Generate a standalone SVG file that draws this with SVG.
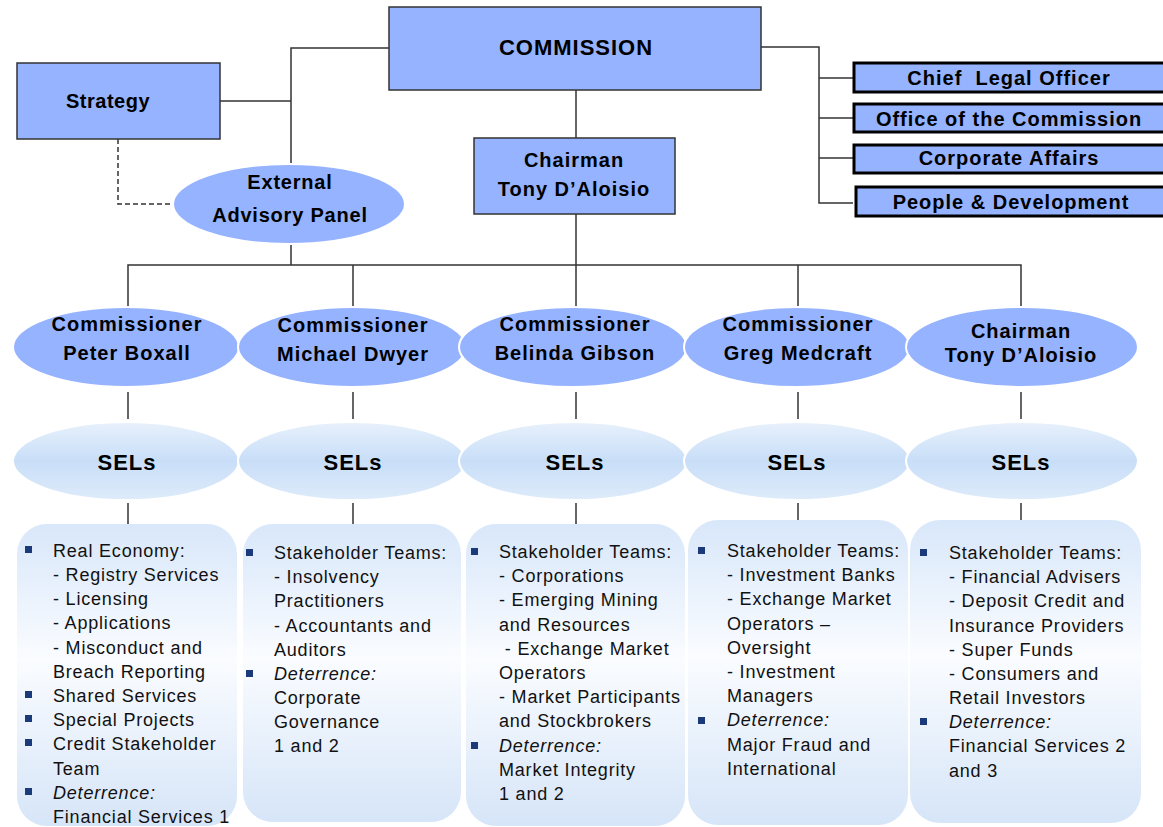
<svg xmlns="http://www.w3.org/2000/svg" width="1163" height="827" viewBox="0 0 1163 827">
<defs>
<linearGradient id="selGrad" x1="0" y1="0" x2="0" y2="1">
<stop offset="0" stop-color="#E8F1FC"/>
<stop offset="0.5" stop-color="#C8DEF8"/>
<stop offset="1" stop-color="#DEEBFA"/>
</linearGradient>
<linearGradient id="boxGrad" x1="0" y1="0" x2="0" y2="1">
<stop offset="0" stop-color="#D8E7FA"/>
<stop offset="0.45" stop-color="#FAFCFF"/>
<stop offset="1" stop-color="#D6E5F8"/>
</linearGradient>
<style>
.blue{fill:#95B3FF;stroke:#333;stroke-width:1.5}
.side{fill:#95B3FF;stroke:#000;stroke-width:3}
.ell{fill:#95B3FF;stroke:#fff;stroke-width:2}
.sel{fill:url(#selGrad);stroke:#fff;stroke-width:2}
.tbox{fill:url(#boxGrad);stroke:none}
.ln{stroke:#333;stroke-width:1.5;fill:none}
.dash{stroke:#333;stroke-width:1.5;fill:none;stroke-dasharray:5 3}
.hd{font-family:"Liberation Sans",Arial,sans-serif;font-weight:bold;fill:#000;text-anchor:middle;letter-spacing:1px}
.bd{font-family:"Liberation Sans",Arial,sans-serif;font-size:18px;fill:#111;letter-spacing:0.8px}
.it{font-style:italic}
.bul{fill:#1A3A7A}
</style>
</defs>
<g id="connectors">
<polyline class="ln" points="220,101 291,101"/>
<polyline class="ln" points="389,48 291,48 291,165"/>
<polyline class="ln" points="291,244 291,265"/>
<polyline class="dash" points="118,139 118,204 173,204"/>
<polyline class="ln" points="576,90 576,138"/>
<polyline class="ln" points="576,214 576,265"/>
<polyline class="ln" points="761,47 819,47 819,203 853,203"/>
<polyline class="ln" points="819,78 853,78"/>
<polyline class="ln" points="819,118 853,118"/>
<polyline class="ln" points="819,158 853,158"/>
<polyline class="ln" points="128,307 128,265 1021,265 1021,307"/>
<polyline class="ln" points="353,265 353,307"/>
<polyline class="ln" points="798,265 798,307"/>
<polyline class="ln" points="576,265 576,307"/>
<polyline class="ln" points="128,392 128,419"/>
<polyline class="ln" points="353,392 353,419"/>
<polyline class="ln" points="576,392 576,419"/>
<polyline class="ln" points="798,392 798,419"/>
<polyline class="ln" points="1021,392 1021,419"/>
<polyline class="ln" points="128,503 128,524"/>
<polyline class="ln" points="353,503 353,524"/>
<polyline class="ln" points="576,503 576,524"/>
<polyline class="ln" points="798,503 798,520"/>
<polyline class="ln" points="1021,503 1021,520"/>
</g>
<g id="commission">
<rect class="blue" x="389" y="7" width="372" height="83"/>
<text class="hd" x="576" y="55" font-size="22">COMMISSION</text>
</g>
<g id="strategy">
<rect class="blue" x="17" y="63" width="203" height="76"/>
<text class="hd" x="108" y="108" font-size="20" style="letter-spacing:0.5px">Strategy</text>
</g>
<g id="external-advisory-panel">
<ellipse class="ell" cx="289" cy="204" rx="116" ry="40"/>
<text class="hd" x="290" y="189" font-size="20" style="letter-spacing:0.8px">External</text>
<text class="hd" x="290" y="222" font-size="20" style="letter-spacing:0.8px">Advisory Panel</text>
</g>
<g id="chairman-box">
<rect class="blue" x="474" y="138" width="201" height="76"/>
<text class="hd" x="574" y="167" font-size="20">Chairman</text>
<text class="hd" x="574" y="196" font-size="20">Tony D’Aloisio</text>
</g>
<g id="chief-legal-officer">
<rect class="side" x="854" y="63" width="320" height="29"/>
<text class="hd" x="1009" y="85" font-size="20" style="white-space:pre">Chief  Legal Officer</text>
</g>
<g id="office-of-the-commission">
<rect class="side" x="854" y="104" width="320" height="28"/>
<text class="hd" x="1009" y="126" font-size="20">Office of the Commission</text>
</g>
<g id="corporate-affairs">
<rect class="side" x="854" y="145" width="320" height="28"/>
<text class="hd" x="1009" y="165" font-size="20">Corporate Affairs</text>
</g>
<g id="people-development">
<rect class="side" x="856" y="187" width="320" height="29"/>
<text class="hd" x="1011" y="209" font-size="20">People &amp; Development</text>
</g>
<g id="commissioner-boxall">
<ellipse class="ell" cx="126" cy="347" rx="113" ry="40"/>
<text class="hd" x="127" y="331" font-size="20">Commissioner</text>
<text class="hd" x="127" y="360" font-size="20">Peter Boxall</text>
</g>
<g id="commissioner-dwyer">
<ellipse class="ell" cx="352" cy="347" rx="114" ry="40"/>
<text class="hd" x="353" y="332" font-size="20">Commissioner</text>
<text class="hd" x="353" y="361" font-size="20">Michael Dwyer</text>
</g>
<g id="commissioner-gibson">
<ellipse class="ell" cx="573" cy="347" rx="114" ry="40"/>
<text class="hd" x="575" y="331" font-size="20">Commissioner</text>
<text class="hd" x="575" y="360" font-size="20">Belinda Gibson</text>
</g>
<g id="commissioner-medcraft">
<ellipse class="ell" cx="797" cy="347" rx="113" ry="40"/>
<text class="hd" x="798" y="331" font-size="20">Commissioner</text>
<text class="hd" x="798" y="360" font-size="20">Greg Medcraft</text>
</g>
<g id="chairman-ellipse">
<ellipse class="ell" cx="1022" cy="347" rx="116" ry="40"/>
<text class="hd" x="1021" y="338" font-size="20">Chairman</text>
<text class="hd" x="1021" y="362" font-size="20">Tony D’Aloisio</text>
</g>
<g id="sels-1">
<ellipse class="sel" cx="126" cy="461" rx="113" ry="39"/>
<text class="hd" x="127" y="470" font-size="22">SELs</text>
</g>
<g id="sels-2">
<ellipse class="sel" cx="352" cy="461" rx="114" ry="39"/>
<text class="hd" x="353" y="470" font-size="22">SELs</text>
</g>
<g id="sels-3">
<ellipse class="sel" cx="573" cy="461" rx="114" ry="39"/>
<text class="hd" x="575" y="470" font-size="22">SELs</text>
</g>
<g id="sels-4">
<ellipse class="sel" cx="797" cy="461" rx="113" ry="39"/>
<text class="hd" x="797" y="470" font-size="22">SELs</text>
</g>
<g id="sels-5">
<ellipse class="sel" cx="1022" cy="461" rx="116" ry="39"/>
<text class="hd" x="1021" y="470" font-size="22">SELs</text>
</g>
<g id="teams-1">
<rect class="tbox" x="17" y="524" width="220" height="302" rx="30"/>
<rect class="bul" x="25" y="546" width="7" height="7"/>
<rect class="bul" x="25" y="691" width="7" height="7"/>
<rect class="bul" x="25" y="715" width="7" height="7"/>
<rect class="bul" x="25" y="739" width="7" height="7"/>
<rect class="bul" x="25" y="788" width="7" height="7"/>
<text class="bd" x="53" y="557">Real Economy:</text>
<text class="bd" x="53" y="581">- Registry Services</text>
<text class="bd" x="53" y="605">- Licensing</text>
<text class="bd" x="53" y="629">- Applications</text>
<text class="bd" x="53" y="654">- Misconduct and</text>
<text class="bd" x="53" y="678">Breach Reporting</text>
<text class="bd" x="53" y="702">Shared Services</text>
<text class="bd" x="53" y="726">Special Projects</text>
<text class="bd" x="53" y="750">Credit Stakeholder</text>
<text class="bd" x="53" y="775">Team</text>
<text class="bd it" x="53" y="799">Deterrence:</text>
<text class="bd" x="53" y="823">Financial Services 1</text>
</g>
<g id="teams-2">
<rect class="tbox" x="243" y="524" width="218" height="298" rx="30"/>
<rect class="bul" x="246" y="549" width="7" height="7"/>
<rect class="bul" x="246" y="670" width="7" height="7"/>
<text class="bd" x="274" y="559">Stakeholder Teams:</text>
<text class="bd" x="274" y="583">- Insolvency</text>
<text class="bd" x="274" y="607">Practitioners</text>
<text class="bd" x="274" y="632">- Accountants and</text>
<text class="bd" x="274" y="656">Auditors</text>
<text class="bd it" x="274" y="680">Deterrence:</text>
<text class="bd" x="274" y="704">Corporate</text>
<text class="bd" x="274" y="728">Governance</text>
<text class="bd" x="274" y="752">1 and 2</text>
</g>
<g id="teams-3">
<rect class="tbox" x="466" y="524" width="219" height="302" rx="30"/>
<rect class="bul" x="471" y="548" width="7" height="7"/>
<rect class="bul" x="471" y="742" width="7" height="7"/>
<text class="bd" x="499" y="558">Stakeholder Teams:</text>
<text class="bd" x="499" y="582">- Corporations</text>
<text class="bd" x="499" y="606">- Emerging Mining</text>
<text class="bd" x="499" y="631">and Resources</text>
<text class="bd" x="499" y="655" style="white-space:pre"> - Exchange Market</text>
<text class="bd" x="499" y="679">Operators</text>
<text class="bd" x="499" y="703">- Market Participants</text>
<text class="bd" x="499" y="727">and Stockbrokers</text>
<text class="bd it" x="499" y="752">Deterrence:</text>
<text class="bd" x="499" y="776">Market Integrity</text>
<text class="bd" x="499" y="800">1 and 2</text>
</g>
<g id="teams-4">
<rect class="tbox" x="688" y="520" width="220" height="305" rx="30"/>
<rect class="bul" x="698" y="547" width="7" height="7"/>
<rect class="bul" x="698" y="717" width="7" height="7"/>
<text class="bd" x="727" y="557">Stakeholder Teams:</text>
<text class="bd" x="727" y="581">- Investment Banks</text>
<text class="bd" x="727" y="605">- Exchange Market</text>
<text class="bd" x="727" y="630">Operators –</text>
<text class="bd" x="727" y="654">Oversight</text>
<text class="bd" x="727" y="678">- Investment</text>
<text class="bd" x="727" y="702">Managers</text>
<text class="bd it" x="727" y="726">Deterrence:</text>
<text class="bd" x="727" y="751">Major Fraud and</text>
<text class="bd" x="727" y="775">International</text>
</g>
<g id="teams-5">
<rect class="tbox" x="910" y="520" width="231" height="303" rx="30"/>
<rect class="bul" x="920" y="549" width="7" height="7"/>
<rect class="bul" x="920" y="718" width="7" height="7"/>
<text class="bd" x="949" y="559">Stakeholder Teams:</text>
<text class="bd" x="949" y="583">- Financial Advisers</text>
<text class="bd" x="949" y="607">- Deposit Credit and</text>
<text class="bd" x="949" y="632">Insurance Providers</text>
<text class="bd" x="949" y="656">- Super Funds</text>
<text class="bd" x="949" y="680">- Consumers and</text>
<text class="bd" x="949" y="704">Retail Investors</text>
<text class="bd it" x="949" y="728">Deterrence:</text>
<text class="bd" x="949" y="752">Financial Services 2</text>
<text class="bd" x="949" y="777">and 3</text>
</g>
</svg>
